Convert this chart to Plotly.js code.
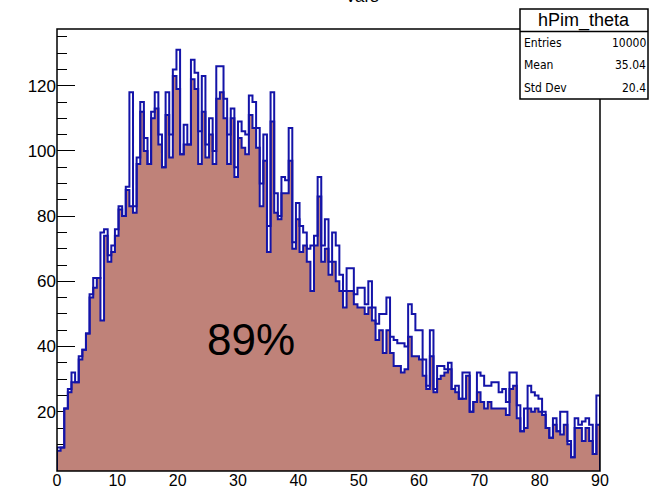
<!DOCTYPE html>
<html>
<head>
<meta charset="utf-8">
<script src="https://cdn.plot.ly/plotly-3.0.1.min.js"></script>
<style>
  html, body { margin: 0; padding: 0; background: #ffffff; }
  #chart { width: 651px; height: 490px; }
</style>
</head>
<body>
<div id="chart"></div>
<script>
// Binning of hPim_theta: 150 bins over 0..90 degrees
const binLow = 0;
const binHigh = 90;
const nBins = 150;

// All pi- candidates (outline only)
const countsAll = [
  9, 9, 21, 27, 32, 29, 37, 39, 44, 56,
  61, 61, 75, 76, 68, 71, 76, 83, 80, 89,
  118, 83, 98, 115, 104, 96, 112, 118, 105, 95,
  118, 105, 125, 131, 99, 108, 102, 128, 124, 106,
  123, 102, 110, 100, 126, 126, 116, 105, 113, 95,
  109, 106, 105, 117, 115, 107, 90, 105, 77, 118,
  87, 80, 92, 91, 107, 72, 84, 77, 75, 70,
  71, 74, 92, 71, 79, 66, 75, 71, 62, 57,
  64, 64, 56, 58, 58, 53, 60, 52, 47, 50,
  50, 55, 43, 42, 41, 41, 40, 53, 50, 45,
  45, 36, 28, 45, 27, 34, 34, 33, 35, 27,
  28, 24, 32, 32, 20, 23, 32, 31, 28, 28,
  29, 29, 26, 27, 23, 32, 32, 22, 14, 21,
  28, 26, 25, 24, 20, 15, 12, 18, 14, 20,
  20, 11, 6, 18, 16, 17, 18, 16, 7, 25
];

// Selected pi- candidates (filled)
const countsSelected = [
  8, 9, 21, 26, 29, 29, 36, 39, 44, 55,
  58, 61, 48, 74, 66, 69, 74, 82, 80, 88,
  83, 81, 96, 112, 100, 96, 110, 113, 102, 95,
  111, 98, 123, 119, 99, 102, 102, 122, 119, 96,
  112, 98, 105, 96, 116, 118, 110, 96, 110, 92,
  104, 101, 99, 111, 107, 101, 83, 97, 69, 109,
  81, 79, 87, 87, 97, 70, 79, 69, 71, 66,
  57, 71, 86, 66, 70, 62, 66, 60, 57, 52,
  57, 57, 53, 52, 52, 50, 52, 48, 42, 45,
  38, 45, 38, 34, 34, 32, 33, 43, 37, 37,
  36, 31, 27, 37, 26, 30, 31, 32, 33, 27,
  26, 24, 24, 31, 20, 23, 26, 23, 21, 23,
  21, 21, 21, 21, 19, 27, 28, 18, 14, 15,
  21, 20, 21, 20, 19, 15, 12, 16, 14, 13,
  16, 10, 6, 15, 15, 11, 15, 11, 7, 16
];

const histName = "hPim_theta";
const statsLabels = ["Entries", "Mean", "Std Dev"];
const statsValues = ["10000", "35.04", "20.4"];
const fractionLabel = "89%";
const padTitle = "Vars";

const lineBlue = "#1414a8";
const fillBrown = "#bf8279";
const textFont = "Liberation Sans, Arial, Helvetica, sans-serif";
const narrowFont = "Liberation Sans Narrow, DejaVu Sans Condensed, Arial Narrow, sans-serif";

// Step outline of a histogram, closed down to the baseline at both ends
function stepOutline(counts, base) {
  const w = (binHigh - binLow) / counts.length;
  const x = [binLow], y = [base];
  counts.forEach((c, i) => { x.push(binLow + i * w); y.push(c); });
  x.push(binHigh); y.push(counts[counts.length - 1]);
  x.push(binHigh); y.push(base);
  return { x, y };
}

const selStep = stepOutline(countsSelected, 0);
const allStep = stepOutline(countsAll, 0);

const traces = [
  {
    type: "scatter", mode: "lines",
    x: selStep.x, y: selStep.y,
    line: { shape: "hv", color: lineBlue, width: 2 },
    fill: "tozeroy", fillcolor: fillBrown,
    hoverinfo: "skip", showlegend: false
  },
  {
    type: "scatter", mode: "lines",
    x: allStep.x, y: allStep.y,
    line: { shape: "hv", color: lineBlue, width: 2 },
    hoverinfo: "skip", showlegend: false
  }
];

// Plot area in pixels: x 57..600, y 29..471
const L = 57, R = 600, T = 29, B = 471;
const px = v => (v - L) / (R - L);
const py = v => (B - v) / (B - T);

const annotations = [
  {
    xref: "paper", yref: "paper", x: px(584), y: py(20),
    text: histName, showarrow: false, xanchor: "center", yanchor: "middle",
    font: { family: textFont, size: 18, color: "#000" }
  },
  {
    xref: "paper", yref: "paper", x: px(362), y: py(-4),
    text: padTitle, showarrow: false, xanchor: "center", yanchor: "middle",
    font: { family: textFont, size: 17, color: "#000" }
  },
  {
    xref: "x", yref: "y", x: 32.1, y: 42,
    text: fractionLabel, showarrow: false, xanchor: "center", yanchor: "middle",
    font: { family: textFont, size: 44, color: "#000" }
  }
];
const rowY = [43, 65, 88];
statsLabels.forEach((lab, i) => {
  annotations.push({
    xref: "paper", yref: "paper", x: px(522), y: py(rowY[i]),
    text: lab, showarrow: false, xanchor: "left", yanchor: "middle",
    font: { family: narrowFont, size: 12, color: "#000" }
  });
  annotations.push({
    xref: "paper", yref: "paper", x: px(648), y: py(rowY[i]),
    text: statsValues[i], showarrow: false, xanchor: "right", yanchor: "middle",
    font: { family: narrowFont, size: 12, color: "#000" }
  });
});

const shapes = [
  // frame
  { type: "rect", xref: "paper", yref: "paper", x0: 0, x1: 1, y0: 0, y1: 1,
    line: { color: "#000", width: 1.5 }, layer: "above" },
  // stats box
  { type: "rect", xref: "paper", yref: "paper", x0: px(520), x1: px(648), y0: py(99), y1: py(9),
    line: { color: "#000", width: 1.5 }, fillcolor: "#fff", layer: "above" },
  { type: "line", xref: "paper", yref: "paper", x0: px(520), x1: px(648), y0: py(31.5), y1: py(31.5),
    line: { color: "#000", width: 1.5 }, layer: "above" }
];

const layout = {
  width: 651, height: 490,
  margin: { l: L, r: 651 - R, t: T, b: 490 - B, pad: 0 },
  paper_bgcolor: "#fff", plot_bgcolor: "#fff",
  showlegend: false,
  xaxis: {
    range: [binLow, binHigh], showgrid: false, zeroline: false, showline: false,
    tickmode: "linear", tick0: 0, dtick: 10,
    ticks: "inside", ticklen: 13, tickwidth: 1, tickcolor: "#000",
    minor: { dtick: 2, ticks: "inside", ticklen: 7, tickcolor: "#000", showgrid: false },
    layer: "below traces",
    ticklabelstandoff: -2,
    tickfont: { family: textFont, size: 16, color: "#000" }
  },
  yaxis: {
    range: [1.81, 137.4], showgrid: false, zeroline: false, showline: false,
    tickmode: "linear", tick0: 0, dtick: 20,
    ticks: "inside", ticklen: 18, tickwidth: 1, tickcolor: "#000",
    minor: { dtick: 5, ticks: "inside", ticklen: 10, tickcolor: "#000", showgrid: false },
    layer: "below traces",
    tickfont: { family: textFont, size: 17, color: "#000" }
  },
  shapes: shapes,
  annotations: annotations
};

Plotly.newPlot("chart", traces, layout, { displayModeBar: false, staticPlot: true });
</script>
</body>
</html>
